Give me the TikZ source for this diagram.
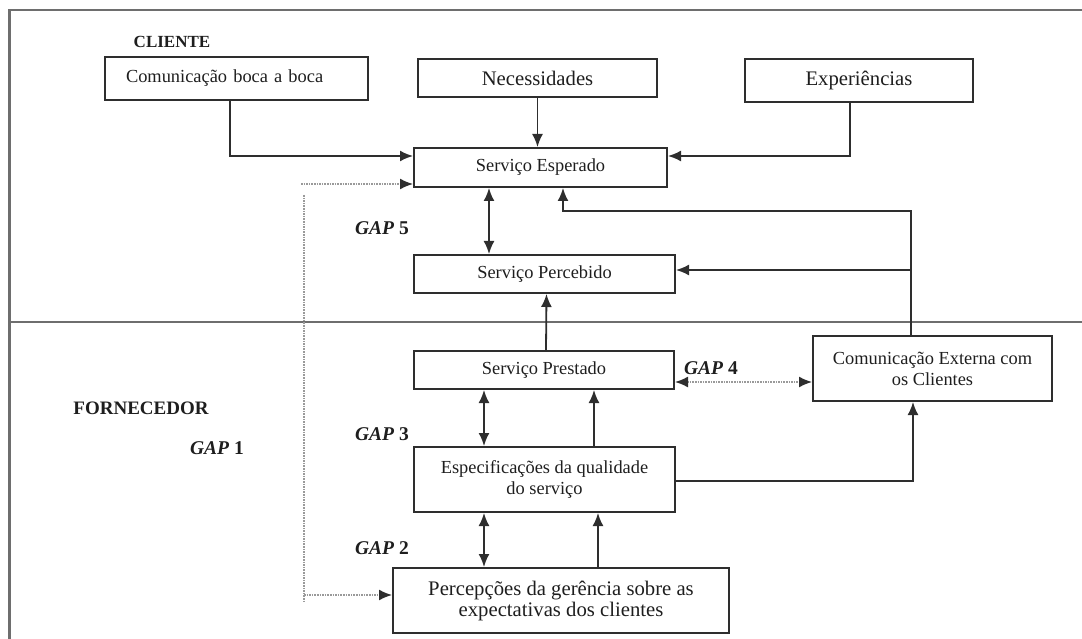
\documentclass[tikz,border=0pt]{standalone}
\usepackage{fontspec}
\setmainfont{Liberation Serif}
\usetikzlibrary{arrows.meta}
\definecolor{linec}{HTML}{2E2E2E}
\definecolor{framec}{HTML}{6E6E6E}
\definecolor{txtc}{HTML}{1E1E1E}
\definecolor{dotc}{HTML}{9A9A9A}
\begin{document}
\begin{tikzpicture}[x=1pt,y=-1pt,
  box/.style={draw=linec, line width=2pt, inner sep=0pt, align=center, text=txtc,
    font=\fontsize{18.4}{21}\selectfont},
  bigtxt/.style={font=\fontsize{20.7}{21}\selectfont},
  conn/.style={draw=linec, line width=1.8pt},
  arr/.style={conn, -{Latex[length=13pt,width=11pt]}},
  dblarr/.style={conn, {Latex[length=13pt,width=11pt]}-{Latex[length=13pt,width=11pt]}},
  dotline/.style={draw=dotc, line width=1.6pt, densely dotted},
  dotarr/.style={dotline, arrows={-{Latex[length=13pt,width=11pt,color=linec]}}},
  dotdbl/.style={dotline, arrows={{Latex[length=13pt,width=11pt,color=linec]}-{Latex[length=13pt,width=11pt,color=linec]}}},
  frame/.style={draw=framec, line width=2.2pt},
  lbl/.style={text=txtc, inner sep=0pt, font=\fontsize{18}{21}\selectfont\bfseries},
  gap/.style={text=txtc, inner sep=0pt, font=\fontsize{19.5}{21}\selectfont\bfseries}
]
\useasboundingbox (0,0) rectangle (1082,639);

% frame
\draw[frame] (1082,10) -- (9.5,10) -- (9.5,639);
\draw[frame] (9.5,322) -- (1082,322);

% labels
\node[lbl, font=\fontsize{17}{21}\selectfont\bfseries] (cliente) at (172,42) {CLIENTE};
\node[lbl, font=\fontsize{19}{21}\selectfont\bfseries] (fornecedor) at (141,408) {FORNECEDOR};
\node[gap] (gap1) at (217,448) {\textit{GAP} 1};
\node[gap] (gap5) at (382,228) {\textit{GAP} 5};
\node[gap] (gap3) at (382,434) {\textit{GAP} 3};
\node[gap] (gap2) at (382,548) {\textit{GAP} 2};
\node[gap] (gap4) at (711,368) {\textit{GAP} 4};

% boxes
\node[box, minimum width=263pt, minimum height=43pt, text width=221pt, align=left] (boca) at (236.5,78.5) {Comunicação boca a boca};
\node[box, bigtxt, minimum width=239pt, minimum height=38pt] (nec) at (537.5,78) {Necessidades};
\node[box, bigtxt, minimum width=228pt, minimum height=43pt] (exp) at (859,80.5) {Experiências};
\node[box, minimum width=253pt, minimum height=39pt] (esp) at (540.5,167.5) {Serviço Esperado};
\node[box, minimum width=261pt, minimum height=38pt] (perc) at (544.5,274) {Serviço Percebido};
\node[box, minimum width=260pt, minimum height=38pt] (prest) at (544,370) {Serviço Prestado};
\node[box, minimum width=261pt, minimum height=65pt] (espec) at (544.5,479.5) {Especificações da qualidade\\do serviço};
\node[box, bigtxt, minimum width=336pt, minimum height=65pt] (percep) at (561,600.5) {Percepções da gerência sobre as\\expectativas dos clientes};
\node[box, minimum width=239pt, minimum height=65pt] (comext) at (932.5,368.5) {Comunicação Externa com\\os Clientes};

% connectors top
\draw[arr] ([xshift=-6.5pt]boca.south) |- ([yshift=11.5pt]esp.west);
\draw[arr] (nec.south) -- (nec.south |- esp.north);
\draw[arr] ([xshift=-9pt]exp.south) |- ([yshift=11.5pt]esp.east);

% dotted gap 1 lines
\coordinate (d1) at (301,184);
\coordinate (d2) at (304,195);
\coordinate (d3) at (304,603);
\coordinate (d4) at (304,595);
\draw[dotline] (d2) -- (d3);
\draw[dotarr] (d1) -- (d1 -| esp.west);
\draw[dotarr] (d4) -- (d4 -| percep.west);

% gap 5
\coordinate (g5) at ([xshift=-51.5pt]esp.south);
\draw[dblarr] (g5) -- (g5 |- perc.north);

% feedback from external communication
\coordinate (fb) at ([xshift=-21.5pt]comext.north);
\coordinate (fe) at ([xshift=22.5pt]esp.south);
\draw[arr] (fb) |- (fe |- 0,211) -- (fe);
\draw[arr] (fb |- 0,270) -- (perc.east |- 0,270);

% prestado -> percebido
\draw[arr] ([xshift=2pt]prest.north) -- ([xshift=2pt]perc.south);

% gap 3
\coordinate (g3) at ([xshift=-60pt]prest.south);
\draw[dblarr] (g3) -- (g3 |- espec.north);
\coordinate (u1) at ([xshift=49.5pt]espec.north);
\draw[arr] (u1) -- (u1 |- prest.south);

% especificacoes -> comunicacao externa
\coordinate (c1) at ([xshift=-19.5pt]comext.south);
\draw[arr] ([yshift=-1.5pt]espec.east) -| (c1);

% gap 2
\coordinate (g2) at (g3 |- espec.south);
\draw[dblarr] (g2) -- (g2 |- percep.north);
\coordinate (u2) at ([xshift=37pt]percep.north);
\draw[arr] (u2) -- (u2 |- espec.south);

% gap 4
\coordinate (g4) at ([yshift=-12pt]prest.east);
\draw[dotdbl] (g4) -- (g4 -| comext.west);
\end{tikzpicture}
\end{document}
